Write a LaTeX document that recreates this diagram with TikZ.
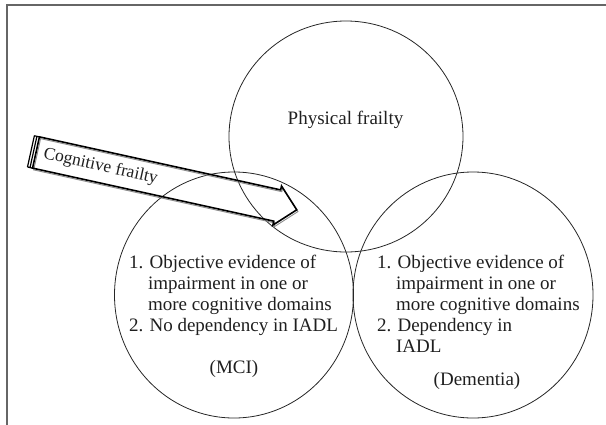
\documentclass[tikz,border=0pt]{standalone}
\usepackage{fontspec}
\setmainfont{Liberation Serif}
\usetikzlibrary{shapes.geometric}
\begin{document}
\begin{tikzpicture}[x=1pt,y=-1pt,
  ring/.style={draw=black!85, line width=0.8pt, ellipse, inner sep=0pt, outer sep=0pt},
  txt/.style={inner sep=0pt, outer sep=0pt, font=\fontsize{19}{21}\selectfont, text=black!88},
  arrowtxt/.style={inner sep=0pt, outer sep=0pt, font=\fontsize{17.5}{20}\selectfont, text=black!88},
  arrowline/.style={line width=1.6pt, line join=miter, draw=black},
  arrowshade/.style={line width=0.9pt, line join=miter, draw=black!45},
  framestyle/.style={draw=black!60, line width=1.1pt}
  ]
\useasboundingbox (0,0) rectangle (606,424);
% frame
\coordinate (fbl) at (7,430);
\coordinate (ftl) at (7,5);
\coordinate (ftr) at (612,5);
\draw[framestyle] (fbl) -- (ftl) -- (ftr);
% circles
\node[ring, minimum width=234, minimum height=231] (topc) at (346,136.5) {};
\node[ring, minimum width=239, minimum height=246] (leftc) at (234,295) {};
\node[ring, minimum width=240, minimum height=246] (rightc) at (473,295) {};
% top label
\node[txt, anchor=base] (pf) at (345.5,124) {Physical frailty};
% MCI block
\node[txt, anchor=base west] (l1) at (129,268) {1. Objective evidence of};
\node[txt, anchor=base west] (l2) at (148,289) {impairment in one or};
\node[txt, anchor=base west] (l3) at (148,310) {more cognitive domains};
\node[txt, anchor=base west] (l4) at (129,331) {2. No dependency in IADL};
\node[txt, anchor=base] (mci) at (234,373) {(MCI)};
% Dementia block
\node[txt, anchor=base west] (r1) at (377,268) {1. Objective evidence of};
\node[txt, anchor=base west] (r2) at (396,289) {impairment in one or};
\node[txt, anchor=base west] (r3) at (396,310) {more cognitive domains};
\node[txt, anchor=base west] (r4) at (377,331) {2. Dependency in};
\node[txt, anchor=base west] (r5) at (396,352) {IADL};
\node[txt, anchor=base] (dem) at (477,385) {(Dementia)};
% cognitive frailty arrow
\begin{scope}[shift={(36,152.5)}, rotate=-12.4]
  \draw[arrowshade] (1.5,-14.5) -- (248.5,-14.5) -- (248.5,-18.5) -- (268.5,1.5) -- (248.5,21.5) -- (248.5,17.5) -- (1.5,17.5) -- cycle;
  \draw[arrowline] (0,-16) -- (247,-16) -- (247,-20) -- (267,0) -- (247,20) -- (247,16) -- (0,16) -- cycle;
  \draw[line width=1.2pt] (-2.6,-16) -- (-2.6,16) (-5.2,-16) -- (-5.2,16) (-5.2,-16) -- (0,-16) (-5.2,16) -- (0,16);
  \node[arrowtxt, anchor=west, rotate=-12.4] (cf) at (8,0) {Cognitive frailty};
\end{scope}
\end{tikzpicture}
\end{document}
